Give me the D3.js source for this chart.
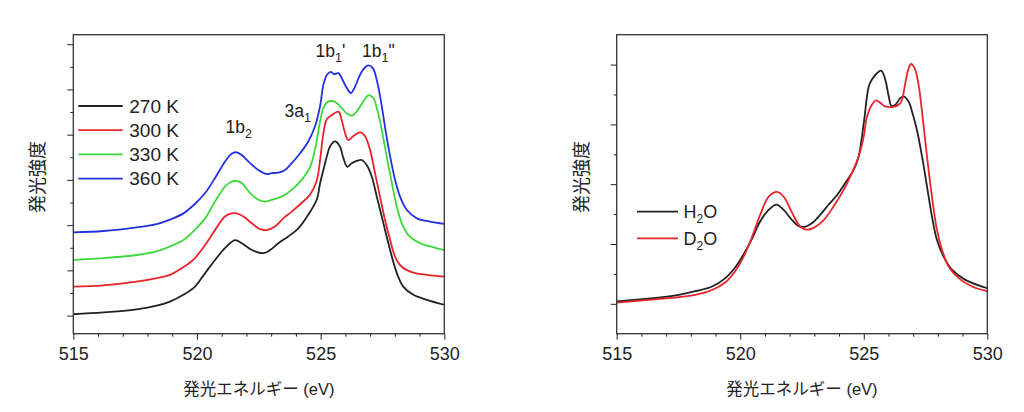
<!DOCTYPE html>
<html><head><meta charset="utf-8">
<script src="https://cdn.jsdelivr.net/npm/d3@7"></script>
<style>
html,body{margin:0;padding:0;background:#fff;}
svg{display:block;font-family:'Liberation Sans',Arial,'Noto Sans CJK JP',sans-serif;}
</style></head>
<body>
<script>
// ---------- data (left panel: temperature dependence) ----------
const tempLabels = ["270 K", "300 K", "330 K", "360 K"];
const e270 = [515.0,516.21,517.56,518.37,518.91,519.45,519.9,520.33,520.73,521.13,521.54,521.81,522.22,522.69,522.96,523.29,523.69,524.10,524.50,524.84,524.98,525.11,525.25,525.38,525.58,525.78,525.92,526.08,526.26,526.46,526.66,526.86,527.07,527.27,527.47,527.67,527.88,528.08,528.34,528.75,529.29,530.0];
const i270 = [0.03,0.07,0.14,0.22,0.31,0.46,0.63,0.94,1.23,1.49,1.67,1.60,1.45,1.38,1.45,1.60,1.75,1.93,2.23,2.56,2.93,3.22,3.52,3.74,3.85,3.74,3.48,3.29,3.37,3.42,3.44,3.33,3.07,2.63,2.19,1.75,1.30,0.94,0.64,0.46,0.35,0.24];
const e300 = [515.0,516.21,517.56,518.37,518.91,519.45,519.88,520.33,520.73,521.13,521.40,521.61,521.88,522.22,522.55,522.82,523.15,523.49,523.83,524.23,524.57,524.84,524.98,525.11,525.25,525.45,525.72,525.85,525.99,526.12,526.30,526.46,526.62,526.80,527.00,527.20,527.40,527.60,527.81,528.01,528.28,528.75,529.29,530.0];
const i300 = [0.64,0.67,0.75,0.83,0.90,1.07,1.25,1.56,1.89,2.19,2.26,2.26,2.19,2.04,1.91,1.89,1.97,2.15,2.30,2.49,2.67,2.98,3.45,4.02,4.34,4.43,4.51,4.33,4.03,3.88,3.96,4.02,4.05,3.96,3.66,3.15,2.63,2.12,1.67,1.30,1.08,0.95,0.90,0.86];
const e330 = [515.0,516.21,517.56,518.37,518.91,519.45,519.88,520.33,520.73,521.13,521.40,521.61,521.81,522.15,522.48,522.75,523.02,523.42,523.83,524.23,524.57,524.80,524.98,525.11,525.25,525.45,525.65,525.85,526.06,526.26,526.46,526.66,526.93,527.13,527.29,527.47,527.67,527.88,528.08,528.28,528.55,529.02,529.56,530.0];
const i330 = [1.23,1.27,1.34,1.42,1.53,1.67,1.88,2.15,2.52,2.85,2.96,2.98,2.93,2.71,2.56,2.52,2.56,2.63,2.78,3.00,3.28,3.75,4.30,4.59,4.71,4.75,4.70,4.59,4.47,4.42,4.51,4.68,4.87,4.81,4.55,4.11,3.52,2.93,2.41,2.04,1.78,1.60,1.51,1.45];
const e360 = [515.0,516.21,517.56,518.37,518.91,519.45,519.88,520.33,520.73,521.13,521.40,521.61,521.81,522.15,522.48,522.82,523.02,523.29,523.56,523.83,524.17,524.50,524.77,524.98,525.11,525.25,525.41,525.54,525.72,525.89,526.06,526.22,526.39,526.59,526.80,526.93,527.11,527.27,527.43,527.60,527.81,528.01,528.21,528.48,528.89,529.42,530.0];
const i360 = [1.84,1.87,1.95,2.02,2.12,2.26,2.45,2.71,3.04,3.40,3.58,3.61,3.55,3.37,3.22,3.13,3.15,3.16,3.22,3.37,3.59,3.85,4.18,4.64,5.10,5.32,5.39,5.34,5.36,5.21,5.03,4.92,5.06,5.32,5.49,5.53,5.47,5.21,4.77,4.18,3.52,3.00,2.63,2.34,2.15,2.08,2.03];
const tempColors = ["#222222", "#e8242a", "#3cd83c", "#2233dd"];

// ---------- data (right panel: isotope) ----------
const isoLabels = [["H","2","O"], ["D","2","O"]];
const eH2O = [515.00,516.16,517.51,518.18,518.86,519.40,519.80,520.14,520.48,520.81,521.15,521.46,521.76,522.10,522.37,522.64,522.91,523.24,523.58,523.92,524.25,524.59,524.79,525.00,525.20,525.33,525.54,525.71,525.87,526.01,526.12,526.28,526.48,526.61,526.82,526.95,527.15,527.36,527.56,527.76,527.96,528.23,528.57,529.11,530.00];
const iH2O = [0.04,0.08,0.15,0.21,0.29,0.43,0.61,0.83,1.09,1.38,1.57,1.66,1.57,1.40,1.30,1.29,1.35,1.49,1.66,1.82,2.02,2.24,2.46,3.02,3.63,3.75,3.86,3.90,3.75,3.47,3.31,3.33,3.44,3.47,3.38,3.22,2.91,2.46,1.96,1.46,1.07,0.79,0.57,0.40,0.26];
const eD2O = [515.00,516.16,517.51,518.18,518.86,519.40,519.80,520.14,520.48,520.81,521.15,521.49,521.76,522.10,522.43,522.70,522.97,523.38,523.78,524.19,524.52,524.79,525.00,525.13,525.33,525.50,525.67,525.87,526.14,526.34,526.52,526.68,526.82,526.92,527.06,527.22,527.38,527.56,527.76,527.96,528.17,528.44,528.84,529.38,530.00];
const iD2O = [0.02,0.06,0.11,0.15,0.23,0.36,0.55,0.79,1.12,1.49,1.79,1.87,1.79,1.52,1.29,1.24,1.27,1.40,1.63,1.91,2.19,2.46,2.80,3.13,3.33,3.40,3.36,3.30,3.29,3.31,3.38,3.69,3.94,4.01,3.94,3.66,3.13,2.46,1.79,1.24,0.90,0.62,0.43,0.29,0.21];
const isoColors = ["#222222", "#e8242a"];

const xTicks = [515, 520, 525, 530];
const xMinor = [516,517,518,519,521,522,523,524,526,527,528,529];
const xTitle = "発光エネルギー (eV)";
const yTitle = "発光強度";

// ---------- drawing ----------
const W = 1024, H = 412;
const svg = d3.select("body").append("svg").attr("width", W).attr("height", H);
const ink = "#222";

function panel(opt) {
  const g = svg.append("g");
  const x = d3.scaleLinear().domain([515, 530]).range([opt.x0, opt.x1]);
  const y = d3.scaleLinear().domain(opt.ydom).range([opt.yb, opt.yt]);

  // y ticks (no labels)
  g.append("g").attr("transform", `translate(${opt.x0},0)`)
    .call(d3.axisLeft(y).tickValues(opt.yMinor).tickSize(3).tickFormat(""))
    .call(s => s.select(".domain").remove())
    .call(s => s.selectAll("line").attr("stroke", ink).attr("stroke-width", 1));
  g.append("g").attr("transform", `translate(${opt.x0},0)`)
    .call(d3.axisLeft(y).tickValues(opt.yMajor).tickSize(6).tickFormat(""))
    .call(s => s.select(".domain").remove())
    .call(s => s.selectAll("line").attr("stroke", ink).attr("stroke-width", 1));

  // x ticks
  g.append("g").attr("transform", `translate(0,${opt.yb})`)
    .call(d3.axisBottom(x).tickValues(xMinor).tickSize(3).tickFormat(""))
    .call(s => s.select(".domain").remove())
    .call(s => s.selectAll("line").attr("stroke", ink).attr("stroke-width", 1));
  const xa = g.append("g").attr("transform", `translate(0,${opt.yb})`)
    .call(d3.axisBottom(x).tickValues(xTicks).tickSize(6).tickPadding(8).tickFormat(d3.format("d")));
  xa.select(".domain").remove();
  xa.selectAll("line").attr("stroke", ink).attr("stroke-width", 1);
  xa.selectAll("text").attr("font-size", 18).attr("fill", ink)
    .attr("font-family", "'Liberation Sans',Arial,sans-serif");

  // curves
  const line = d3.line().x(d => x(d[0])).y(d => y(d[1])).curve(d3.curveCatmullRom.alpha(0.5));
  opt.series.forEach((s, k) => {
    const pts = s.e.map((e, i) => [e, s.v[i]]);
    g.append("path").datum(pts).attr("d", line)
      .attr("fill", "none").attr("stroke", opt.colors[k]).attr("stroke-width", 1.8)
      .attr("stroke-linejoin", "round");
  });

  // frame
  g.append("rect").attr("x", opt.x0).attr("y", opt.yt)
    .attr("width", opt.x1 - opt.x0).attr("height", opt.yb - opt.yt)
    .attr("fill", "none").attr("stroke", "#333").attr("stroke-width", 1.3);

  // titles
  g.append("text").attr("x", (opt.x0 + opt.x1) / 2).attr("y", 395)
    .attr("text-anchor", "middle").attr("font-size", 16.5).attr("fill", ink)
    .attr("font-family", "'Liberation Sans','Noto Sans CJK JP',sans-serif")
    .text(xTitle);
  g.append("text").attr("transform", `translate(${opt.ytx},177) rotate(-90)`)
    .attr("text-anchor", "middle").attr("dy", "0.35em").attr("font-size", 18).attr("fill", ink)
    .attr("font-family", "'Noto Sans CJK JP',sans-serif")
    .text(yTitle);
  return {g, x, y};
}

// Left panel
const L = panel({
  x0: 73.3, x1: 444.3, yt: 34.7, yb: 333.7, ydom: [-0.4, 6.21],
  yMajor: [0,1,2,3,4,5,6], yMinor: [0.5,1.5,2.5,3.5,4.5,5.5],
  ytx: 38,
  series: [{e:e270,v:i270},{e:e300,v:i300},{e:e330,v:i330},{e:e360,v:i360}],
  colors: tempColors
});
// legend left
tempLabels.forEach((t, k) => {
  const yy = 106 + k * 24.2;
  L.g.append("line").attr("x1", 78.3).attr("x2", 122.7).attr("y1", yy).attr("y2", yy)
    .attr("stroke", tempColors[k]).attr("stroke-width", 1.8);
  L.g.append("text").attr("x", 129.3).attr("y", yy + 6.8).attr("font-size", 19).attr("fill", ink).text(t);
});
// annotations
function ann(g, x, y, main, sub, tail) {
  const t = g.append("text").attr("x", x).attr("y", y).attr("font-size", 17.5).attr("fill", ink);
  t.append("tspan").text(main);
  t.append("tspan").attr("font-size", 12.5).attr("dy", 5).text(sub);
  if (tail) t.append("tspan").attr("font-size", 17.5).attr("dy", -5).text(tail);
}
ann(L.g, 225.5, 133, "1b", "2");
ann(L.g, 284.5, 116.5, "3a", "1");
ann(L.g, 315.5, 57, "1b", "1", "'");
ann(L.g, 362, 57, "1b", "1", "\"");

// Right panel
const R = panel({
  x0: 616.7, x1: 987.3, yt: 34.7, yb: 333.7, ydom: [-0.5, 4.5],
  yMajor: [0,1,2,3,4], yMinor: [0.5,1.5,2.5,3.5],
  ytx: 582,
  series: [{e:eH2O,v:iH2O},{e:eD2O,v:iD2O}],
  colors: isoColors
});
isoLabels.forEach((lab, k) => {
  const yy = 211.7 + k * 26.6;
  R.g.append("line").attr("x1", 637).attr("x2", 678).attr("y1", yy).attr("y2", yy)
    .attr("stroke", isoColors[k]).attr("stroke-width", 1.8);
  const t = R.g.append("text").attr("x", 683.5).attr("y", yy + 6.5).attr("font-size", 18).attr("fill", ink);
  t.append("tspan").text(lab[0]);
  t.append("tspan").attr("font-size", 12).attr("dy", 5).text(lab[1]);
  t.append("tspan").attr("dy", -5).text(lab[2]);
});
</script>
</body></html>
